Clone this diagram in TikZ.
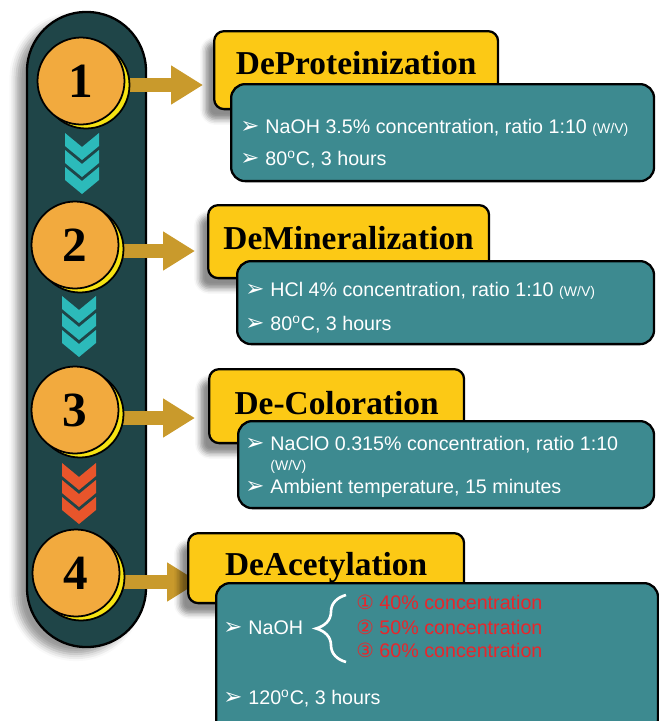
\documentclass[tikz,border=0pt]{standalone}
\usepackage{fontspec}
\setmainfont{Liberation Sans}
\newfontfamily\titlefont{Liberation Serif}
\newfontfamily\symfont{DejaVu Sans}
\usetikzlibrary{positioning,arrows.meta,shadows.blur,decorations.pathreplacing}
\definecolor{pilldark}{HTML}{1F4548}
\definecolor{numorange}{HTML}{F2AA3E}
\definecolor{moonyellow}{HTML}{F6E312}
\definecolor{arrowgold}{HTML}{C99A2C}
\definecolor{titleyellow}{HTML}{FCC915}
\definecolor{bodyteal}{HTML}{3D8A90}
\definecolor{chevteal}{HTML}{2CBABA}
\definecolor{chevred}{HTML}{E8552B}
\definecolor{optred}{HTML}{E8262B}
\newcommand{\bul}{{\symfont\fontsize{13}{13}\selectfont ➢}\hspace{0.3em}}
\newcommand{\wv}{{\fontsize{8}{8}\selectfont (W/V)}}
\newcommand{\degc}{\textsuperscript{o}C}

\begin{document}
\begin{tikzpicture}[x=0.02cm,y=-0.02cm,
    numcirc/.style={circle,fill=numorange,draw=black,line width=1pt,minimum size=1.74cm,inner sep=0pt,
        font=\titlefont\bfseries\fontsize{28}{28}\selectfont},
    moon/.style={circle,fill=moonyellow,draw=black,line width=1pt,minimum size=1.74cm,inner sep=0pt},
    titlebox/.style={draw=black,line width=1.3pt,fill=titleyellow,rounded corners=0.2cm,anchor=north west,
        inner xsep=0pt,inner ysep=0pt,font=\titlefont\bfseries\fontsize{19}{19}\selectfont,
        blur shadow={shadow xshift=-5pt,shadow yshift=-6pt,shadow blur radius=3pt,shadow opacity=45}},
    bodybox/.style={draw=black,line width=1.3pt,fill=bodyteal,rounded corners=0.28cm,anchor=north west,inner sep=0pt},
    item/.style={anchor=base west,text=white,inner sep=0pt,font=\fontsize{11.2}{13}\selectfont},
    option/.style={item,text=optred},
    arr/.style={arrowgold,line width=0.28cm,-{Triangle[length=0.64cm,width=0.74cm]}},
]
\useasboundingbox (0,0) rectangle (659,721);
\def\chev{(0,0) -- (17,14) -- (34,0) -- (34,13) -- (17,27) -- (0,13) -- cycle}

% left track
\filldraw[fill=pilldark,draw=black,line width=1.3pt,rounded corners=1.18cm,
    blur shadow={shadow xshift=-6pt,shadow yshift=-4pt,shadow blur radius=4pt,shadow opacity=40}]
    (27,12) rectangle (146,647);
\foreach \k in {0,1,2} {
    \fill[chevteal,shift={(65,{133+17*\k})}] \chev;
    \fill[chevteal,shift={(62,{296+17*\k})}] \chev;
    \fill[chevred,shift={(62,{463+17*\k})}] \chev;
}

% arrows, drawn under the circles and titles
\coordinate (p1) at (81,81);
\coordinate (p2) at (75,245);
\coordinate (p3) at (75,410);
\coordinate (p4) at (76,573);
\coordinate (tip1) at (203,85);
\coordinate (tip2) at (195,251);
\coordinate (tip3) at (195,418);
\coordinate (tip4) at (199,582);
\foreach \i in {1,...,4}
    \draw[arr] (p\i |- tip\i) -- (tip\i);

\foreach \i in {1,...,4} {
    \node[moon] (m\i) at ([shift={(5,4)}]p\i) {};
    \node[numcirc] (c\i) at (p\i) {\i};
}

% titles
\node[titlebox,minimum width=5.68cm,text height=0.86cm,text depth=0.70cm] (t1) at (213,30) {DeProteinization};
\node[titlebox,minimum width=5.62cm,text height=0.88cm,text depth=0.58cm] (t2) at (207,204) {DeMineralization};
\node[titlebox,minimum width=5.10cm,text height=0.90cm,text depth=0.58cm] (t3) at (208,368) {De-Coloration};
\node[titlebox,minimum width=5.52cm,text height=0.84cm,text depth=0.56cm] (t4) at (187,532) {DeAcetylation};

% conditions
\node[bodybox,minimum width=8.46cm,minimum height=1.94cm] (b1) at (230,83) {};
\node[bodybox,minimum width=8.34cm,minimum height=1.66cm] (b2) at (236,260) {};
\node[bodybox,minimum width=8.32cm,minimum height=1.74cm] (b3) at (237,420) {};
\node[bodybox,minimum width=8.84cm,minimum height=3.00cm] (b4) at (215,582) {};

\node[item] (s1a) at (240,133) {\bul NaOH 3.5\% concentration, ratio 1:10 \wv};
\node[item] (s1b) at (240,165) {\bul 80\degc, 3 hours};
\node[item] (s2a) at (245,296) {\bul HCl 4\% concentration, ratio 1:10 \wv};
\node[item] (s2b) at (245,330) {\bul 80\degc, 3 hours};
\node[item] (s3a) at (245,450) {\bul NaClO 0.315\% concentration, ratio 1:10};
\node[item] (s3w) at (270,470) {\wv};
\node[item] (s3b) at (245,493) {\bul Ambient temperature, 15 minutes};
\node[item] (s4a) at (223,634) {\bul NaOH};
\node[option] (r1) at (356,609) {{\symfont ①} 40\% concentration};
\node[option] (r2) at (356,634) {{\symfont ②} 50\% concentration};
\node[option] (r3) at (356,657) {{\symfont ③} 60\% concentration};
\node[item] (s4b) at (223,704) {\bul 120\degc, 3 hours};
\draw[white,line width=1.5pt,decorate,decoration={brace,amplitude=0.6cm}] (346,662) -- (346,595);
\end{tikzpicture}
\end{document}
